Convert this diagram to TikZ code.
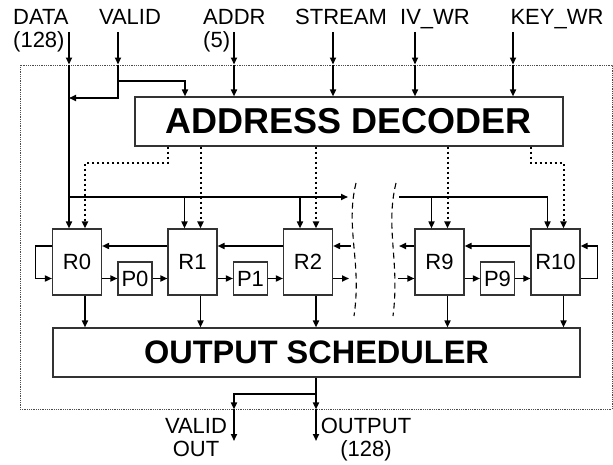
\documentclass[tikz,border=0pt]{standalone}
\usepackage{fontspec}
\setmainfont{Liberation Sans}
\usetikzlibrary{arrows.meta,calc,positioning}

\begin{document}
\begin{tikzpicture}[
  x=1pt, y=-1pt,
  font=\fontsize{22}{23}\selectfont,
  reg/.style={draw=black!80, line width=1.1pt, minimum width=49pt, minimum height=66pt, inner sep=0pt},
  pipe/.style={draw=black!80, line width=1.1pt, minimum width=34pt, minimum height=33pt, inner sep=0pt},
  blk/.style={draw=black!80, line width=1.1pt, inner sep=0pt},
  frame/.style={draw=black!70, line width=0.9pt, dash pattern=on 0.9pt off 0.9pt, inner sep=0pt},
  lbl/.style={inner sep=0pt, align=#1},
  bus/.style={line width=1.6pt, -{Triangle[length=7pt,width=6pt]}},
  ctl/.style={line width=2pt, dash pattern=on 2pt off 3pt, -{Triangle[length=7pt,width=6pt]}},
  brk/.style={line width=1.1pt, dash pattern=on 6pt off 4pt},
]
\useasboundingbox (0,0) rectangle (613,465);

%% ---- frame, decoder, scheduler ----
\node[frame, minimum width=592pt, minimum height=344pt] (frame) at (316,237) {};
\node[blk, minimum width=428pt, minimum height=49pt, font=\fontsize{36}{38}\selectfont\bfseries] (dec) at (349,121.5) {ADDRESS DECODER};
\node[blk, minimum width=527pt, minimum height=49pt, font=\fontsize{32.5}{35}\selectfont\bfseries] (sched) at (316.5,352.5) {OUTPUT SCHEDULER};

%% ---- round registers and pipeline stages ----
\node[reg] (R0)  at (77,262)    {R0};
\node[reg] (R1)  at (192.5,262) {R1};
\node[reg] (R2)  at (308,262)   {R2};
\node[reg] (R9)  at (439.5,262) {R9};
\node[reg] (R10) at (555.5,262) {R10};
\node[pipe] (P0) at (135,278.5)   {P0};
\node[pipe] (P1) at (250.5,278.5) {P1};
\node[pipe] (P9) at (497.5,278.5) {P9};

\foreach \r in {R0,R1,R2,R9,R10} {
  \coordinate (\r-in)  at ($(\r.north)+(-8,0)$);
  \coordinate (\r-ctl) at ($(\r.north)+(8,0)$);
  \coordinate (\r-out) at ($(\r.south)+(8,0)$);
}

%% ---- input labels ----
\node[lbl=left, anchor=north west] (dataL) at (13,9) {DATA\\(128)};
\node[lbl=left, anchor=north] (validL) at (130,9) {VALID};
\node[lbl=left, anchor=north west] (addrL) at (203,9) {ADDR\\(5)};
\node[lbl=left, anchor=north] (streamL) at (341,9) {STREAM};
\node[lbl=left, anchor=north] (ivL) at (435,9) {IV\_WR};
\node[lbl=left, anchor=north] (keyL) at (557,9) {KEY\_WR};

\coordinate (dataIn)   at (69,32);
\coordinate (validIn)  at (118,32);
\coordinate (addrIn)   at (234,32);
\coordinate (streamIn) at (333,32);
\coordinate (ivIn)     at (415,32);
\coordinate (keyIn)    at (513,32);

\foreach \s in {dataIn,validIn,addrIn,streamIn,ivIn,keyIn}
  \draw[bus] (\s) -- (\s |- frame.north);
\foreach \s in {addrIn,streamIn,ivIn,keyIn}
  \draw[bus] (\s |- frame.north) -- (\s |- dec.north);

%% ---- valid ----
\coordinate (validTap)  at (118,81);
\coordinate (validDec)  at (185,81);
\coordinate (validTurn) at (118,98);
\draw[bus] (validIn |- frame.north) -- (validTurn) -- (validTurn -| dataIn);
\draw[bus] (validTap) -- (validDec) -- (validDec |- dec.north);

%% ---- data bus ----
\coordinate (busL)    at (69,197);
\coordinate (busLend) at (348,197);
\coordinate (busR)    at (399,197);
\draw[bus] (dataIn |- frame.north) -- (R0-in);
\draw[bus] (busL) -- (busLend);
\foreach \r in {R1,R2,R9}
  \draw[bus] (\r-in |- busL) -- (\r-in);
\draw[bus] (busR) -- (R10-in |- busR) -- (R10-in);

%% ---- decoder selects ----
\coordinate (decL) at (168,163);
\coordinate (decR) at (531,163);
\draw[ctl] (decL |- dec.south) -- (decL) -- (decL -| R0-ctl) -- (R0-ctl);
\foreach \r in {R1,R2,R9}
  \draw[ctl] (\r-ctl |- dec.south) -- (\r-ctl);
\draw[ctl] (decR |- dec.south) -- (decR) -- (decR -| R10-ctl) -- (R10-ctl);

%% ---- register chain ----
\draw[bus] ($(R1.west)+(0,-16)$) -- ($(R0.east)+(0,-16)$);
\draw[bus] ($(R2.west)+(0,-16)$) -- ($(R1.east)+(0,-16)$);
\draw[bus] ($(R10.west)+(0,-16)$) -- ($(R9.east)+(0,-16)$);
\draw[bus] (R0.east |- P0.west) -- (P0.west);
\draw[bus] (P0.east) -- (R1.west |- P0.east);
\draw[bus] (R1.east |- P1.west) -- (P1.west);
\draw[bus] (P1.east) -- (R2.west |- P1.east);
\draw[bus] (R9.east |- P9.west) -- (P9.west);
\draw[bus] (P9.east) -- (R10.west |- P9.east);
\draw[bus] ($(R0.west)+(0,-16)$) -- ++(-16.5,0) |- ($(R0.west)+(0,16.5)$);
\draw[bus] ($(R10.east)+(0,16.5)$) -- ++(17,0) |- ($(R10.east)+(0,-16)$);

%% ---- break ----
\coordinate (gapLtop) at (351,246);
\coordinate (gapLbot) at (349,278.5);
\coordinate (gapRtop) at (399,246);
\coordinate (gapRbot) at (398,278.5);
\draw[bus] (gapLtop) -- (gapLtop -| R2.east);
\draw[bus] (R2.east |- gapLbot) -- (gapLbot);
\draw[bus] (R9.west |- gapRtop) -- (gapRtop);
\draw[bus] (gapRbot) -- (gapRbot -| R9.west);
\draw[brk] (356,183) .. controls (345,228) and (362,262) .. (354,316);
\draw[brk] (396,183) .. controls (385,228) and (400,262) .. (393,316);

%% ---- outputs ----
\foreach \r in {R0,R1,R2,R9,R10}
  \draw[bus] (\r-out) -- (\r-out |- sched.north);
\coordinate (outTap) at (316,394);
\coordinate (outEnd) at (316,441);
\coordinate (vOut)   at (234,441);
\draw[bus] (outEnd |- sched.south) -- (outEnd |- frame.south);
\draw[bus] (outEnd |- frame.south) -- (outEnd);
\draw[bus] (outTap) -- (outTap -| vOut) -- (vOut |- frame.south);
\draw[bus] (vOut |- frame.south) -- (vOut);
\node[lbl=center, anchor=north] (validOutL) at (196,418) {VALID\\OUT};
\node[lbl=center, anchor=north] (outL) at (366,418) {OUTPUT\\(128)};

\end{tikzpicture}
\end{document}
